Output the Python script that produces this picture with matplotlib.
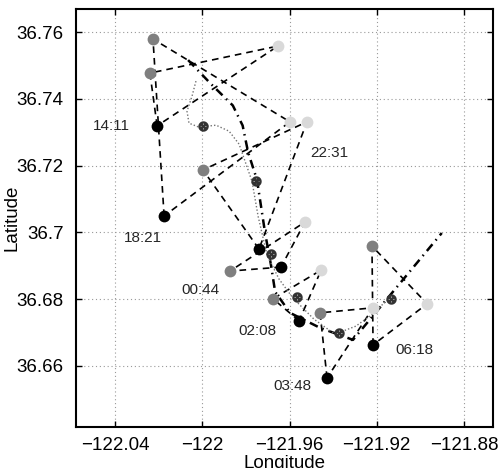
import matplotlib.pyplot as plt

# times of the formation snapshots
times = ['14:11', '18:21', '22:31', '00:44', '02:08', '03:48', '06:18']

# vehicle positions at each time (lon, lat)
black_lon = [-122.0207, -122.0175, -121.9740, -121.9639, -121.9556, -121.9428, -121.9217]
black_lat = [36.7319, 36.7049, 36.6950, 36.6896, 36.6735, 36.6564, 36.6663]
dark_lon = [-122.0240, -122.0226, -121.9997, -121.9873, -121.9676, -121.9460, -121.9222]
dark_lat = [36.7477, 36.7579, 36.7187, 36.6884, 36.6801, 36.6759, 36.6959]
light_lon = [-121.9653, -121.9598, -121.9520, -121.9529, -121.9455, -121.9217, -121.8969]
light_lat = [36.7558, 36.7331, 36.7331, 36.7031, 36.6887, 36.6774, 36.6786]

# formation centre track (dotted) and centre markers
centre_lon = [-122.0029, -122.0047, -122.0070, -122.0061, -122.0015, -121.9937, -121.9877,
              -121.9831, -121.9804, -121.9772, -121.9744, -121.9703, -121.9648, -121.9584,
              -121.9488, -121.9392, -121.9296, -121.9213, -121.9154]
centre_lat = [36.7453, 36.7408, 36.7363, 36.7327, 36.7315, 36.7321, 36.7303,
              36.7264, 36.7213, 36.7153, 36.7048, 36.6932, 36.6860, 36.6803,
              36.6740, 36.6695, 36.6719, 36.6758, 36.6797]
mark_lon = [-121.9997, -121.9754, -121.9686, -121.9566, -121.9374, -121.9136]
mark_lat = [36.7319, 36.7154, 36.6935, 36.6807, 36.6700, 36.6800]

# feature track (dash-dot)
track_lon = [-122.0065, -121.9964, -121.9860, -121.9815, -121.9790, -121.9749, -121.9712,
             -121.9685, -121.9666, -121.9598, -121.9460, -121.9309, -121.8902]
track_lat = [36.7516, 36.7447, 36.7380, 36.7320, 36.7240, 36.7157, 36.6998,
             36.6902, 36.6822, 36.6759, 36.6714, 36.6678, 36.6998]

# time label positions
label_lon = [-122.0418, -122.0272, -121.9419, -122.0010, -121.9749, -121.9588, -121.9029]
label_lat = [36.7319, 36.6983, 36.7238, 36.6828, 36.6705, 36.6540, 36.6648]

xticks = [-122.04, -122.0, -121.96, -121.92, -121.88]
xticklabels = ['\u2212122.04', '\u2212122', '\u2212121.96', '\u2212121.92', '\u2212121.88']
yticks = [36.66, 36.68, 36.7, 36.72, 36.74, 36.76]
yticklabels = ['36.66', '36.68', '36.7', '36.72', '36.74', '36.76']

plt.rcParams['font.family'] = ['Liberation Sans', 'DejaVu Sans']

fig = plt.figure(figsize=(4.98, 4.68), dpi=100)
ax = fig.add_axes([0.1526, 0.0876, 0.8374, 0.8932])

# triangles
for i in range(len(times)):
    xs = [black_lon[i], dark_lon[i], light_lon[i], black_lon[i]]
    ys = [black_lat[i], dark_lat[i], light_lat[i], black_lat[i]]
    ax.plot(xs, ys, color='k', lw=1.2, linestyle=(0, (4, 3)), zorder=2)

ax.plot(track_lon, track_lat, color='k', lw=1.8, linestyle=(0, (3.5, 2, 0.6, 2)), zorder=2)
ax.plot(centre_lon, centre_lat, color='0.45', lw=1.0, linestyle=(0, (1, 1.5)), zorder=2)
ax.plot(mark_lon, mark_lat, linestyle='none', marker=r'$\otimes$', ms=6.5, color='0.2', zorder=4)

ax.plot(dark_lon, dark_lat, 'o', color='#7f7f7f', ms=8.5, mew=0, zorder=3)
ax.plot(light_lon, light_lat, 'o', color='#d9d9d9', ms=8.5, mew=0, zorder=3)
ax.plot(black_lon, black_lat, 'o', color='k', ms=8.5, mew=0, zorder=3)

for t, lx, ly in zip(times, label_lon, label_lat):
    ax.text(lx, ly, t, fontsize=11, ha='center', va='center', color='0.15')

ax.set_xlim(-122.0579, -121.8667)
ax.set_ylim(36.6417, 36.7669)
ax.set_xticks(xticks)
ax.set_xticklabels(xticklabels)
ax.set_yticks(yticks)
ax.set_yticklabels(yticklabels)
ax.tick_params(direction='in', top=True, right=True, length=4, width=1, labelsize=13.5)
ax.tick_params(axis='y', pad=9)
ax.tick_params(axis='x', pad=7)
ax.grid(True, color='0.6', linestyle=(0, (1, 2.5)), lw=0.8)
for s in ax.spines.values():
    s.set_linewidth(1.5)

ax.set_xlabel('Longitude', fontsize=13.5)
ax.xaxis.set_label_coords(0.5, -0.068)
ax.set_ylabel('Latitude', fontsize=13.5)
ax.yaxis.set_label_coords(-0.134, 0.5)

plt.savefig('out.png')
